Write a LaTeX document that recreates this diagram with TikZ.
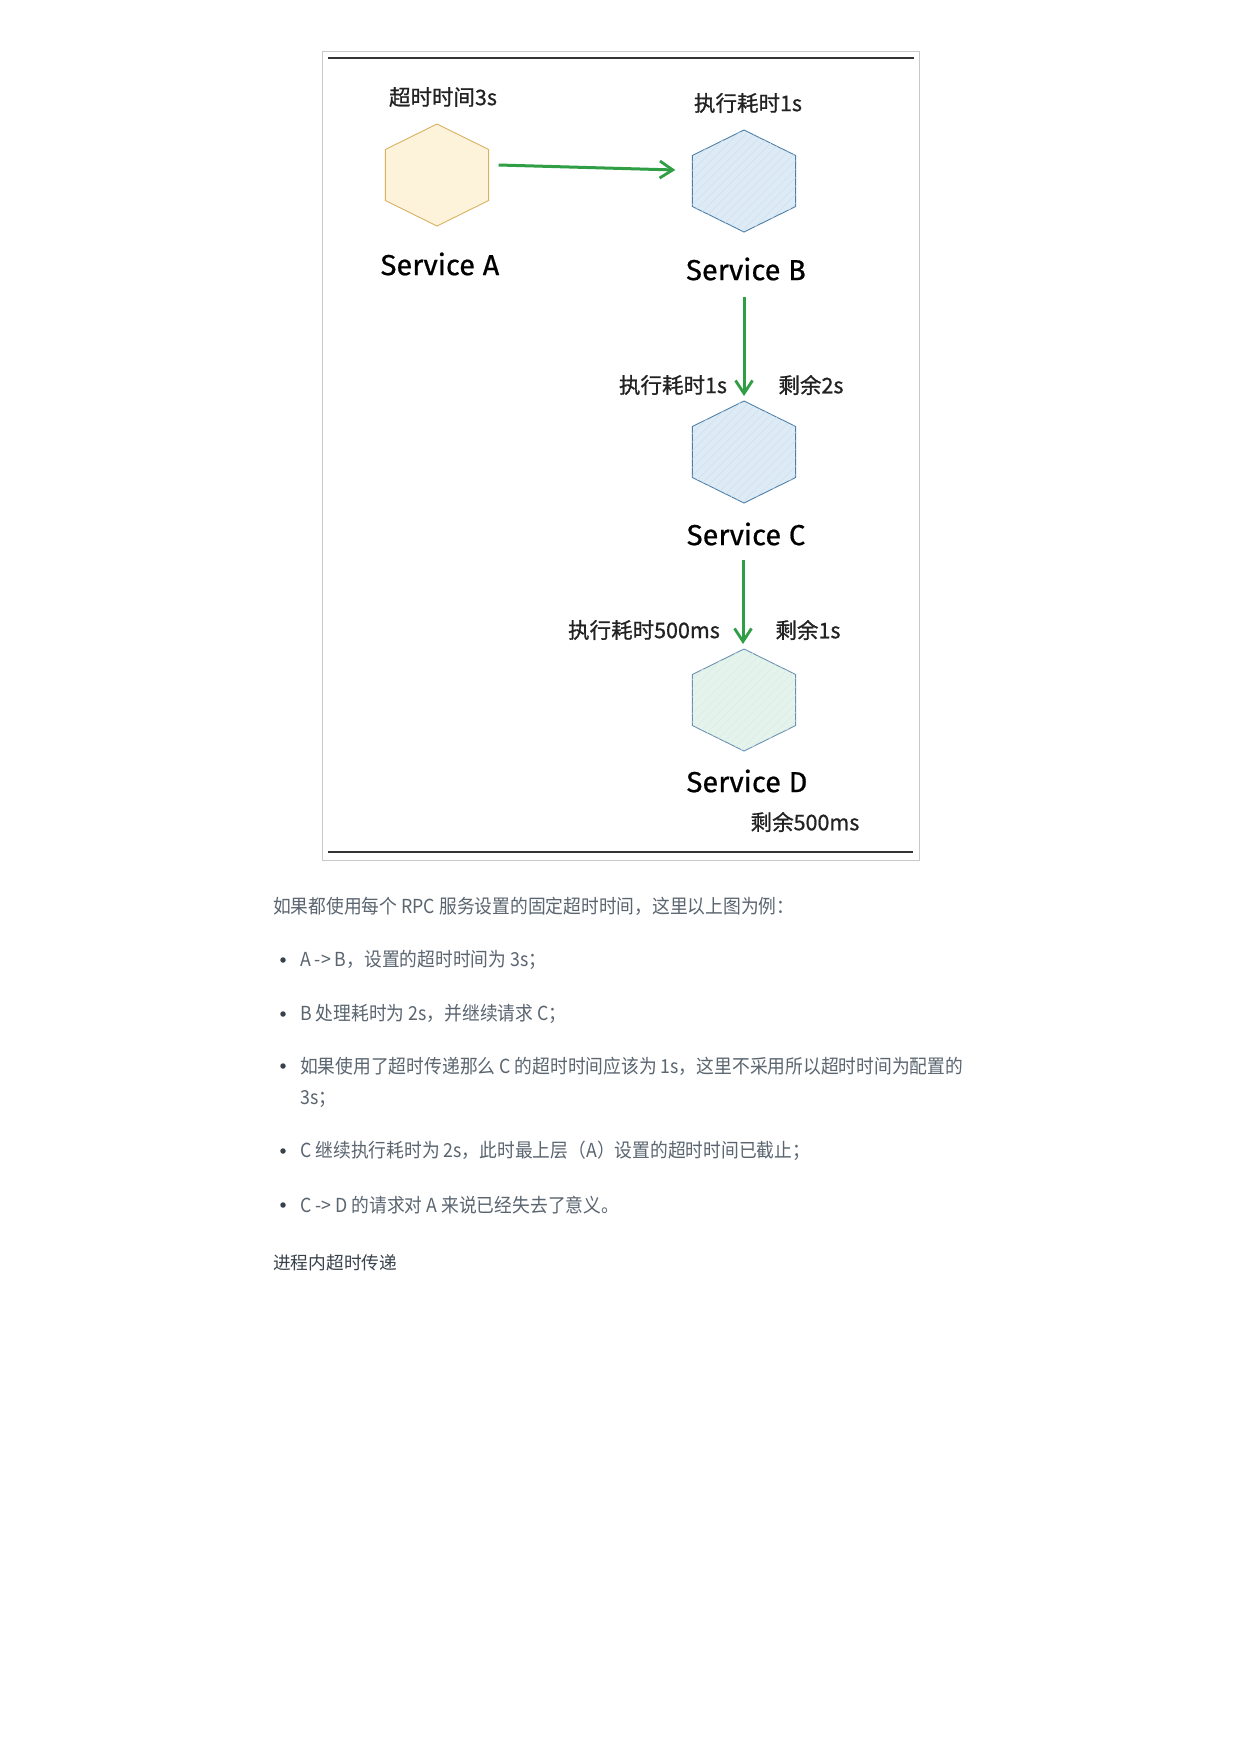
\documentclass[tikz,border=0pt]{standalone}
\usepackage{fontspec}
\newfontfamily\cjk{Noto Sans CJK SC}
\newfontfamily\cjklbl{Noto Sans CJK SC}[FakeBold=0.8]
\newfontfamily\cjkbody{Noto Sans CJK SC}[FakeStretch=0.92]
\newfontfamily\hand{Fira Sans}[FakeBold=0.6]
\usetikzlibrary{shapes.geometric,arrows.meta,patterns.meta,calc}
\definecolor{hexAfill}{HTML}{FDF3DA}
\definecolor{hexAline}{HTML}{DAB062}
\definecolor{hexBfill}{HTML}{DDEBF7}
\definecolor{hexBline}{HTML}{4E7FA8}
\definecolor{hexDfill}{HTML}{E4F4EA}
\definecolor{arrowgreen}{HTML}{2F9E44}
\definecolor{bodytext}{HTML}{5A6570}
\definecolor{headtext}{HTML}{38424C}
\definecolor{framegray}{HTML}{C8C8C8}
\definecolor{labeltext}{HTML}{222222}
\tikzset{
  hexbase/.style={shape=regular polygon, regular polygon sides=6, shape border rotate=30,
    inner sep=0pt, outer sep=0pt, line width=0.9pt, minimum size=102pt, xscale=1.17, transform shape},
  hexA/.style={hexbase, draw=hexAline, fill=hexAfill},
  hexB/.style={hexbase, draw=hexBline, fill=hexBfill,
    postaction={pattern={Lines[angle=45,distance=6pt,line width=0.5pt]}, pattern color=hexBline!25}},
  hexD/.style={hexbase, draw=hexBline!85, fill=hexDfill,
    postaction={pattern={Lines[angle=45,distance=6pt,line width=0.5pt]}, pattern color=hexBline!18}},
  lbl/.style={font=\cjklbl\fontsize{21.5}{25}\selectfont, text=labeltext, inner sep=0pt},
  svc/.style={font=\hand\fontsize{29}{33}\selectfont, text=black, inner sep=0pt},
  arr/.style={draw=arrowgreen, line width=3pt, -{Straight Barb[length=13pt,width=17pt,line width=2.8pt]}},
  body/.style={font=\cjkbody\fontsize{19.3}{23}\selectfont, text=bodytext, anchor=west, inner sep=0pt},
  head/.style={font=\cjk\fontsize{17.7}{21}\selectfont, text=headtext, anchor=west, inner sep=0pt},
  bullet/.style={circle, fill=headtext, inner sep=0pt, minimum size=5.5pt}
}
\begin{document}
\begin{tikzpicture}[x=1pt,y=-1pt]
\useasboundingbox (0,0) rectangle (1241,1754);
\fill[white] (0,0) rectangle (1241,1754);
% frame
\draw[framegray, line width=1pt] (322,51) rectangle (919,860);
\draw[black!80, line width=1.6pt] (328,58) -- (914,58);
\draw[black!80, line width=1.6pt] (328,852) -- (913,852);
% hexagons
\node[hexA] (A) at (437,175) {};
\node[hexB] (B) at (744,181) {};
\node[hexB] (C) at (744,452) {};
\node[hexD] (D) at (744,700) {};
% labels
\node[lbl] (LA) at (443,97) {超时时间3s};
\node[lbl] (LB) at (748,103) {执行耗时1s};
\node[svc] (SA) at (440,264) {Service A};
\node[svc] (SB) at (746,269) {Service B};
\node[svc] (SC) at (746,534) {Service C};
\node[svc] (SD) at (747,781) {Service D};
\node[lbl] (LC1) at (673,385) {执行耗时1s};
\node[lbl] (LC2) at (811,385) {剩余2s};
\node[lbl] (LD1) at (644,630) {执行耗时500ms};
\node[lbl] (LD2) at (808,630) {剩余1s};
\node[lbl] (LD3) at (805,822) {剩余500ms};
% arrows
\draw[arr] ([shift={(10,-10)}]A.east) -- ([shift={(-17,-11)}]B.west);
\draw[arr, shorten >=5pt] ($(C.north |- SB.center)+(0,28)$) -- (C.north);
\draw[arr, shorten >=5pt] ($(D.north |- SC.center)+(-1,26)$) -- ($(D.north)+(-1,0)$);
% body text
\node[body] (T0) at (273,906) {如果都使用每个 RPC 服务设置的固定超时时间，这里以上图为例：};
\node[bullet] (b1) at (283,960) {};
\node[body] (T1) at (300,960) {A -> B，设置的超时时间为 3s；};
\node[bullet] (b2) at (283,1014) {};
\node[body] (T2) at (300,1014) {B 处理耗时为 2s，并继续请求 C；};
\node[bullet] (b3) at (283,1066) {};
\node[body] (T3) at (300,1066) {如果使用了超时传递那么 C 的超时时间应该为 1s，这里不采用所以超时时间为配置的};
\node[body] (T3b) at (300,1099) {3s；};
\node[bullet] (b4) at (283,1151) {};
\node[body] (T4) at (300,1151) {C 继续执行耗时为 2s，此时最上层（A）设置的超时时间已截止；};
\node[bullet] (b5) at (283,1205) {};
\node[body] (T5) at (300,1205) {C -> D 的请求对 A 来说已经失去了意义。};
\node[head] (H) at (273,1263) {进程内超时传递};
\end{tikzpicture}
\end{document}
